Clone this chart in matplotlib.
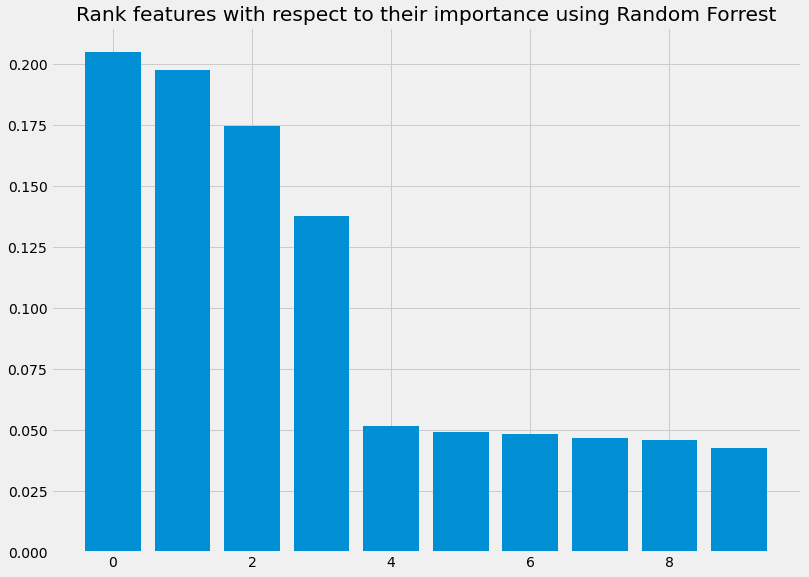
import matplotlib
import matplotlib.pyplot as plt
import numpy as np

matplotlib.use("Agg")
plt.style.use("fivethirtyeight")

# feature importances, sorted descending
importances = [0.2050, 0.1977, 0.1747, 0.1378, 0.0518, 0.0493, 0.0485, 0.0468, 0.0460, 0.0427]
feature_idx = np.arange(len(importances))

fig, ax = plt.subplots(figsize=(809 / 72, 577 / 72), dpi=72)
fig.subplots_adjust(left=0.063, right=0.990, bottom=0.0433, top=0.953)

ax.bar(feature_idx, importances, width=0.8, color="#008fd5")
ax.set_title("Rank features with respect to their importance using Random Forrest")

fig.savefig("out.png", dpi=72)
